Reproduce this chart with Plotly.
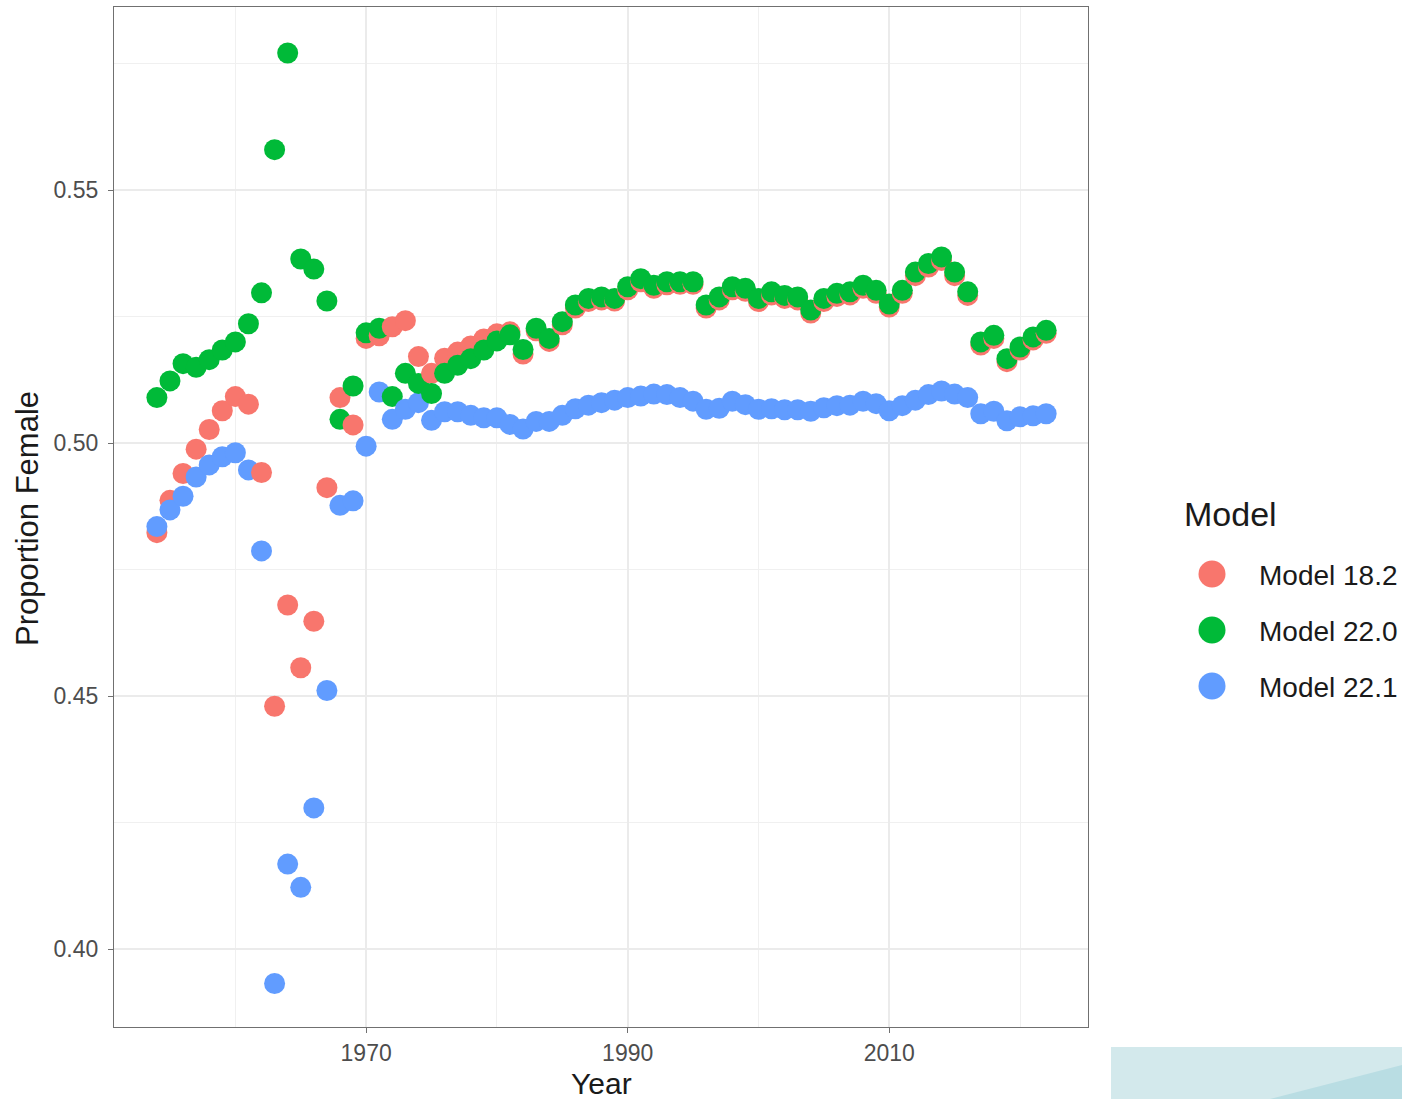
import plotly.graph_objects as go

# Sex-ratio estimates (proportion female) by year for three model runs
years = list(range(1954, 2023))

model_18_2 = [
    0.4823, 0.4887, 0.4940, 0.4988, 0.5027, 0.5064, 0.5092, 0.5077, 0.4942, 0.4480,
    0.4680, 0.4556, 0.4648, 0.4912, 0.5090, 0.5036, 0.5207, 0.5212, 0.5230, 0.5242,
    0.5171, 0.5138, 0.5168, 0.5180, 0.5192, 0.5206, 0.5216, 0.5220, 0.5176, 0.5222,
    0.5201, 0.5234, 0.5267, 0.5280, 0.5283, 0.5281, 0.5303, 0.5319, 0.5306, 0.5313,
    0.5314, 0.5314, 0.5267, 0.5283, 0.5303, 0.5300, 0.5280, 0.5293, 0.5286, 0.5283,
    0.5257, 0.5280, 0.5290, 0.5293, 0.5306, 0.5296, 0.5269, 0.5296, 0.5331, 0.5348,
    0.5361, 0.5331, 0.5292, 0.5194, 0.5207, 0.5161, 0.5184, 0.5204, 0.5217,
]

model_22_0 = [
    0.5090, 0.5123, 0.5157, 0.5150, 0.5165, 0.5184, 0.5200, 0.5236, 0.5297, 0.5580,
    0.5771, 0.5364, 0.5344, 0.5281, 0.5047, 0.5113, 0.5218, 0.5227, 0.5092, 0.5138,
    0.5118, 0.5098, 0.5138, 0.5154, 0.5167, 0.5184, 0.5202, 0.5214, 0.5185, 0.5227,
    0.5207, 0.5240, 0.5273, 0.5286, 0.5289, 0.5286, 0.5309, 0.5325, 0.5312, 0.5319,
    0.5319, 0.5319, 0.5273, 0.5289, 0.5309, 0.5306, 0.5286, 0.5299, 0.5292, 0.5289,
    0.5263, 0.5286, 0.5296, 0.5299, 0.5312, 0.5302, 0.5275, 0.5302, 0.5338, 0.5355,
    0.5368, 0.5338, 0.5299, 0.5200, 0.5213, 0.5167, 0.5190, 0.5210, 0.5223,
]

model_22_1 = [
    0.4835, 0.4868, 0.4895, 0.4933, 0.4957, 0.4973, 0.4981, 0.4947, 0.4787, 0.3932,
    0.4168, 0.4122, 0.4279, 0.4511, 0.4877, 0.4886, 0.4994, 0.5101, 0.5047, 0.5067,
    0.5080, 0.5045, 0.5062, 0.5062, 0.5055, 0.5050, 0.5050, 0.5037, 0.5028, 0.5043,
    0.5043, 0.5055, 0.5068, 0.5075, 0.5080, 0.5085, 0.5090, 0.5093, 0.5097, 0.5096,
    0.5090, 0.5083, 0.5067, 0.5069, 0.5083, 0.5076, 0.5067, 0.5068, 0.5066, 0.5066,
    0.5063, 0.5070, 0.5074, 0.5075, 0.5083, 0.5078, 0.5064, 0.5074, 0.5085, 0.5096,
    0.5103, 0.5097, 0.5090, 0.5058, 0.5063, 0.5044, 0.5052, 0.5054, 0.5058,
]

model_names = ["Model 18.2", "Model 22.0", "Model 22.1"]
model_colors = ["#F8766D", "#00BA38", "#619CFF"]

# Points are drawn year by year so later years overlap earlier ones
series = {"Model 18.2": model_18_2, "Model 22.0": model_22_0, "Model 22.1": model_22_1}
color_of = dict(zip(model_names, model_colors))
draw_order = ["Model 18.2", "Model 22.1", "Model 22.0"]

xs, ys, cs, names = [], [], [], []
for i, yr in enumerate(years):
    for m in draw_order:
        xs.append(yr)
        ys.append(series[m][i])
        cs.append(color_of[m])
        names.append(m)

fig = go.Figure()
fig.add_trace(go.Scatter(
    x=xs, y=ys, mode="markers",
    marker=dict(size=21, color=cs, line=dict(width=0)),
    text=names, hovertemplate="%{text}<br>%{x}: %{y:.4f}<extra></extra>",
    showlegend=False,
))

L, R, T, B = 114, 314, 7, 72
W, H = 1402, 1099
pw, ph = W - L - R, H - T - B


def px_x(p):
    return (p - L) / pw


def px_y(p):
    return (H - B - p) / ph


font_family = "Liberation Sans, Arial, Helvetica, sans-serif"

shapes = []
annotations = []

# Legend (drawn by hand so the keys can be large)
annotations.append(dict(
    text="Model", xref="paper", yref="paper", x=px_x(1182), y=px_y(514),
    xanchor="left", yanchor="middle", showarrow=False,
    font=dict(family=font_family, size=34, color="#1a1a1a"),
))
for k, (name, col) in enumerate(zip(model_names, model_colors)):
    cy = 574 + 56 * k
    shapes.append(dict(
        type="circle", xref="paper", yref="paper",
        xsizemode="pixel", ysizemode="pixel",
        xanchor=px_x(1212), yanchor=px_y(cy),
        x0=-13.5, x1=13.5, y0=-13.5, y1=13.5,
        fillcolor=col, line=dict(width=0),
    ))
    annotations.append(dict(
        text=name, xref="paper", yref="paper", x=px_x(1257), y=px_y(cy + 1),
        xanchor="left", yanchor="middle", showarrow=False,
        font=dict(family=font_family, size=28, color="#1a1a1a"),
    ))

# Axis titles
annotations.append(dict(
    text="Year", xref="paper", yref="paper", x=0.5, y=px_y(1083),
    xanchor="center", yanchor="middle", showarrow=False,
    font=dict(family=font_family, size=30, color="#1a1a1a"),
))
annotations.append(dict(
    text="Proportion Female", xref="paper", yref="paper", x=px_x(27), y=px_y(519),
    xanchor="center", yanchor="middle", showarrow=False, textangle=-90,
    font=dict(family=font_family, size=31, color="#1a1a1a"),
))

# Light teal panel in the lower-right corner
shapes.append(dict(
    type="rect", xref="paper", yref="paper", layer="below",
    x0=px_x(1111), x1=px_x(1410), y0=px_y(1105), y1=px_y(1047),
    fillcolor="#d3e9ec", line=dict(width=0),
))
shapes.append(dict(
    type="path", xref="paper", yref="paper", layer="below",
    path=f"M {px_x(1270)},{px_y(1099)} L {px_x(1410)},{px_y(1063)} L {px_x(1410)},{px_y(1105)} L {px_x(1250)},{px_y(1105)} Z",
    fillcolor="#b9dde3", line=dict(width=0),
))

axis_common = dict(
    showline=True, mirror=True, linecolor="#707070", linewidth=1.2,
    ticks="outside", ticklen=5, tickwidth=1.2, tickcolor="#707070",
    gridcolor="#ebebeb", gridwidth=2, zeroline=False,
    tickfont=dict(family=font_family, size=23, color="#4d4d4d"),
    automargin=False,
)

fig.update_layout(
    width=W, height=H,
    margin=dict(l=L, r=R, t=T, b=B, pad=0),
    paper_bgcolor="white", plot_bgcolor="white",
    shapes=shapes, annotations=annotations,
    showlegend=False,
    xaxis=dict(
        range=[1950.72, 2025.2], tickvals=[1970, 1990, 2010],
        minor=dict(tickvals=[1960, 1980, 2000, 2020], showgrid=True,
                   gridcolor="#f0f0f0", gridwidth=1.2),
        ticklabelstandoff=0,
        **axis_common,
    ),
    yaxis=dict(
        range=[0.3846, 0.5862], tickvals=[0.40, 0.45, 0.50, 0.55],
        tickformat=".2f",
        minor=dict(tickvals=[0.425, 0.475, 0.525, 0.575], showgrid=True,
                   gridcolor="#f0f0f0", gridwidth=1.2),
        ticklabelstandoff=5,
        **axis_common,
    ),
)

fig.write_html("out.html")
